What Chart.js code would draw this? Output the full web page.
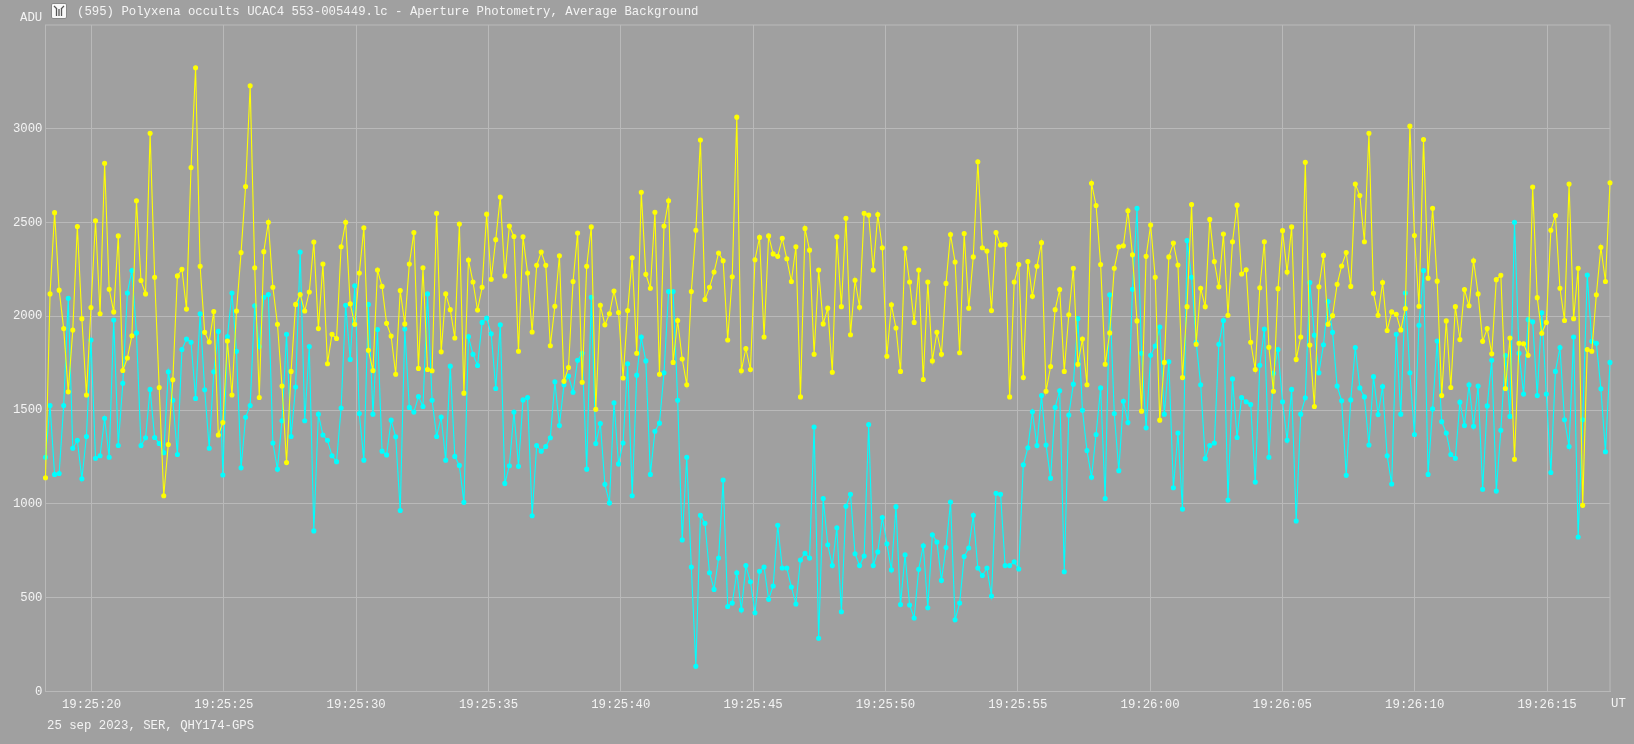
<!DOCTYPE html>
<html>
<head>
<meta charset="utf-8">
<title>(595) Polyxena occults UCAC4 553-005449</title>
<script src="https://cdn.jsdelivr.net/npm/chart.js@4/dist/chart.umd.min.js"></script>
<style>
html, body { margin: 0; padding: 0; background: #a0a0a0; }
#wrap { position: relative; width: 1634px; height: 744px; overflow: hidden; }
#lc { position: absolute; left: 0; top: 0; }
.note { position: absolute; color: #f4f4f4; font: 12.33px "Liberation Mono", monospace; white-space: pre; line-height: 14px; }
#icon { position: absolute; left: 51px; top: 3px; }
</style>
</head>
<body>
<div id="wrap">
  <canvas id="lc" width="1634" height="744"></canvas>
  <svg id="icon" width="16" height="16" viewBox="0 0 16 16">
    <rect x="0.5" y="0.5" width="15" height="15" rx="1.5" fill="#f8f8f8" stroke="#888"/>
    <path d="M3 3 L6 6 M13 3 L10 6 M5.5 6 L5.5 13 M8 6 L8 13 M10.5 6 L10.5 13" stroke="#555" stroke-width="1.3" fill="none"/>
  </svg>
  <div class="note" style="left:77px;top:5px">(595) Polyxena occults UCAC4 553-005449.lc - Aperture Photometry, Average Background</div>
  <div class="note" style="left:20px;top:11px">ADU</div>
  <div class="note" style="left:1611px;top:697px">UT</div>
  <div class="note" style="left:47px;top:719px">25 sep 2023, SER, QHY174-GPS</div>
</div>
<script>
// ADU, one value per frame
var target = [
  1139,2119,2552,2139,1934,1597,1926,2478,1987,1580,2046,2509,2013,2815,2144,2023,2428,1711,1777,1896,
  2615,2190,2119,2975,2208,1620,1043,1316,1661,2215,2250,2038,2792,3324,2266,1914,1863,2025,1367,1433,
  1868,1580,2028,2339,2691,3228,2258,1567,2344,2501,2154,1957,1628,1220,1706,2063,2116,2028,2129,2395,
  1934,2278,1747,1904,1881,2370,2501,2066,1957,2230,2471,1818,1711,2246,2159,1962,1894,1691,2137,1959,
  2278,2446,1722,
  2258,1716,1709,2549,1810,2119,2035,1884,2491,1590,2299,2182,2033,2154,2544,2197,2408,2635,2215,2481,
  2425,1813,2423,2230,1916,2271,2342,2271,1843,2053,2322,1653,1727,2185,2443,1648,2266,2476,1504,2058,
  1954,2013,2134,2020,1671,2030,2311,1803,2661,2223,2149,2554,1691,2481,2615,1754,1977,1772,1635,2132,
  2458,2939,2089,2154,2235,2337,2296,1873,2210,3061,1709,1828,1716,2301,2420,1889,2428,2332,2319,2415,
  2306,2185,2370,1570,2468,2352,1797,2246,
  1959,2043,1701,2423,2051,2522,1901,2192,2048,2549,2539,2246,2542,2365,1787,2061,1937,1706,2362,2182,
  1967,2246,1663,2182,1762,1914,1797,2175,2435,2289,1805,2441,2043,2316,2823,2365,2347,2030,2446,2380,
  2382,1570,2182,2276,1673,2291,2106,2266,2392,1600,1732,2035,2142,1706,2008,2256,1744,1878,1635,2709,
  2590,2276,1744,1911,2256,2370,2375,2562,2327,1975,1494,2319,2486,2208,1446,1754,2316,2390,2273,1673,
  2051,2595,1851,2149,2051,2516,2291,2157,
  2438,2005,2397,2592,2225,2248,1861,1716,2152,2397,1835,1600,2147,2456,2235,2476,1770,1889,2820,1846,
  1519,2157,2324,1957,2003,2170,2268,2339,2159,2704,2643,2397,2975,2122,2005,2180,1924,2023,2010,1927,
  2041,3013,2430,2053,2942,2203,2575,2187,1577,1975,1620,2051,1876,2142,2056,2296,2119,1866,1934,1800,
  2195,2218,1615,1884,1238,1856,1853,1792,2689,2099,1909,1967,2458,2537,2149,1977,2704,1987,2256,992,
  1823,1813,2114,2367,2185,2711
];
var comparison = [
  1248,1524,1157,1162,1524,2096,1296,1339,1134,1359,1873,1243,1256,1456,1248,1980,1311,1643,2124,2243,
  1911,1311,1352,1610,1354,1322,1273,1704,1552,1263,1823,1878,1861,1562,2013,1608,1296,1704,1919,1154,
  1891,2124,1813,1192,1461,1524,2056,1838,2101,2116,1324,1185,1443,1904,1359,1623,2342,1443,1838,856,
  1478,1367,1339,1256,1225,1511,2058,1770,2162,1481,1233,2063,1478,1929,1281,1261,1446,1357,965,1932,
  1514,1489,1572,
  1519,2119,1552,1359,1463,1233,1734,1253,1205,1008,1891,1797,1737,1967,1990,1906,1615,1954,1109,1203,
  1489,1200,1554,1567,937,1311,1281,1306,1352,1651,1418,1635,1681,1595,1765,1803,1185,2101,1322,1428,
  1104,1005,1539,1213,1324,1747,1043,1686,1889,1762,1157,1387,1430,1699,2132,2132,1552,808,1248,663,
  134,939,896,633,544,711,1127,453,471,633,435,671,585,420,641,663,491,562,886,658,
  658,557,466,701,737,711,1410,284,
  1028,782,671,873,425,987,1051,734,671,722,1423,671,744,927,787,648,985,463,729,461,
  392,651,777,446,835,797,592,767,1010,382,471,719,765,939,658,618,658,509,1056,1051,
  671,671,691,653,1208,1299,1491,1311,1577,1314,1137,1514,1603,638,1473,1638,1987,1499,1284,1142,
  1370,1618,1028,2114,1481,1177,1547,1433,2144,2575,1803,1405,1792,1841,1942,1478,1757,1086,1377,972,
  2403,2208,1861,1635,1241,1311,1324,1851,
  1977,1020,1666,1354,1567,1544,1529,1116,1739,1932,1248,1696,1823,1544,1339,1610,909,1478,1565,2180,
  1899,1699,1848,2078,1914,1628,1549,1152,1554,1833,1618,1570,1314,1678,1476,1625,1256,1106,1904,1478,
  2124,1699,1370,1952,2243,1157,1506,1868,1438,1377,1263,1243,1542,1418,1635,1413,1628,1078,1522,1765,
  1068,1392,1790,1466,2501,1803,1585,1982,1970,1577,2018,1585,1167,1706,1833,1448,1306,1889,823,1448,
  2220,1866,1856,1613,1278,1754
];
// time of the first frame and frame spacing, seconds after 19:25:00
var firstFrame = 18.26;
var frameStep = 0.17186;
var yTicks = [0, 500, 1000, 1500, 2000, 2500, 3000];

function frameTimes(n) {
  var out = [];
  for (var i = 0; i < n; i++) out.push(firstFrame + i * frameStep);
  return out;
}
var times = frameTimes(target.length);

function pairs(values) {
  return values.map(function (v, i) { return { x: times[i], y: v }; });
}

function clockLabel(sec) {
  var m = Math.floor(sec / 60), s = Math.round(sec - m * 60);
  return "19:" + (25 + m) + ":" + String(s).padStart(2, "0");
}

var gridColor = "#b9b9b9";
var labelFont = { family: "'Liberation Mono', monospace", size: 12.33 };

var frameBox = {
  id: "frameBox",
  beforeDatasetsDraw: function (chart) {
    var a = chart.chartArea, ctx = chart.ctx;
    ctx.save();
    ctx.strokeStyle = gridColor;
    ctx.lineWidth = 1;
    ctx.strokeRect(a.left, a.top, a.right - a.left, a.bottom - a.top);
    ctx.restore();
  }
};

new Chart("lc", {
  type: "line",
  plugins: [frameBox],
  data: {
    datasets: [{
      label: "Target",
      data: pairs(target),
      borderColor: "#ffff00",
      backgroundColor: "#ffff00",
      borderWidth: 1.1,
      pointRadius: 2,
      clip: false,
      order: 1
    }, {
      label: "Comparison",
      data: pairs(comparison),
      borderColor: "#00ffff",
      backgroundColor: "#00ffff",
      borderWidth: 1.1,
      pointRadius: 2,
      clip: false,
      order: 2
    }]
  },
  options: {
    responsive: false,
    animation: false,
    layout: { padding: { left: 0, right: 24, top: 25, bottom: 0 } },
    plugins: { legend: { display: false }, tooltip: { enabled: false } },
    scales: {
      x: {
        type: "linear",
        min: 18.26,
        max: 77.38,
        grid: { color: gridColor, drawTicks: false },
        border: { color: gridColor },
        afterFit: function (scale) { scale.height = 52.5; },
        afterBuildTicks: function (scale) {
          scale.ticks = scale.ticks.filter(function (t) { return t.value % 5 === 0; });
        },
        ticks: {
          stepSize: 5,
          includeBounds: false,
          maxRotation: 0,
          autoSkip: false,
          color: "#f4f4f4",
          font: labelFont,
          padding: 6,
          callback: function (v) { return clockLabel(v); }
        }
      },
      y: {
        min: 0,
        max: 3552,
        grid: { color: gridColor, drawTicks: false },
        border: { color: gridColor },
        afterFit: function (scale) { scale.width = 45.5; },
        afterBuildTicks: function (scale) {
          scale.ticks = yTicks.map(function (v) { return { value: v }; });
        },
        ticks: {
          color: "#f4f4f4",
          font: labelFont,
          padding: 3,
          callback: function (v) { return String(v); }
        }
      }
    }
  }
});
</script>
</body>
</html>
